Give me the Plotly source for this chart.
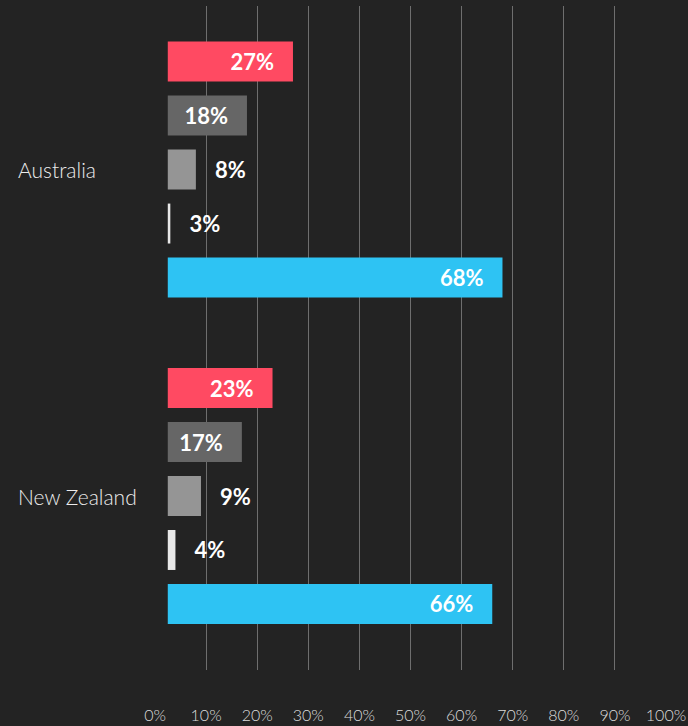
import plotly.graph_objects as go

# ---- data ----
countries = ["Australia", "New Zealand"]
series_names = ["Series 1", "Series 2", "Series 3", "Series 4", "Series 5"]
series_1 = [27, 23]
series_2 = [18, 17]
series_3 = [8, 9]
series_4 = [3, 4]
series_5 = [68, 66]
tick_values = [0, 10, 20, 30, 40, 50, 60, 70, 80, 90, 100]
tick_labels = ["0%", "10%", "20%", "30%", "40%", "50%", "60%", "70%", "80%", "90%", "100%"]

# ---- style ----
BG = "#232323"
colors = ["#ff4a62", "#666666", "#959595", "#e8e8e8", "#2ec3f3"]
BAR_BASE = 2.5          # bars start slightly right of the 0% mark
INSIDE_MIN = 10         # values at or above this get their label inside the bar
PAD = "\u00a0" * 3
FONT = "Lato"

all_series = [series_1, series_2, series_3, series_4, series_5]

fig = go.Figure()
for name, vals, col in zip(series_names, all_series, colors):
    texts, positions = [], []
    for v in vals:
        if v >= INSIDE_MIN:
            texts.append(f"{v}%{PAD}")
            positions.append("inside")
        else:
            texts.append(f"{PAD}{v}%")
            positions.append("outside")
    fig.add_trace(go.Bar(
        name=name,
        y=countries,
        x=[v - BAR_BASE for v in vals],
        base=BAR_BASE,
        orientation="h",
        marker=dict(color=col, line=dict(width=0)),
        text=texts,
        textposition=positions,
        insidetextanchor="end",
        textangle=0,
        constraintext="none",
        cliponaxis=False,
        textfont=dict(family=FONT, size=22, color="#ffffff", weight="bold"),
        insidetextfont=dict(family=FONT, size=22, color="#ffffff", weight="bold"),
        outsidetextfont=dict(family=FONT, size=22, color="#ffffff", weight="bold"),
        hoverinfo="skip",
    ))

for c in countries:
    fig.add_annotation(
        x=0, xref="paper", xshift=-139, xanchor="left",
        y=c, yref="y", yanchor="middle",
        text=c, showarrow=False,
        font=dict(family=FONT, size=21, color="#ececec", weight=300),
    )

fig.update_layout(
    width=688, height=726,
    paper_bgcolor=BG, plot_bgcolor=BG,
    margin=dict(l=155, r=22, t=6, b=56, autoexpand=False),
    barmode="group",
    bargap=0.173,
    bargroupgap=0.26,
    showlegend=False,
    xaxis=dict(
        range=[0, 100],
        tickvals=tick_values,
        ticktext=tick_labels,
        showgrid=True,
        gridcolor="#6e6e6e",
        gridwidth=1,
        zeroline=True,
        zerolinecolor=BG,
        zerolinewidth=2,
        showline=False,
        ticks="outside",
        ticklen=31,
        tickcolor=BG,
        tickfont=dict(family=FONT, size=16, color="#dcdcdc", weight=300),
        automargin=False,
        fixedrange=True,
    ),
    yaxis=dict(
        type="category",
        range=[1.533, -0.501],
        showticklabels=False,
        showgrid=False,
        zeroline=False,
        showline=False,
        automargin=False,
        fixedrange=True,
    ),
)

fig.write_html(
    "out.html",
    config={"displayModeBar": False},
    post_script="document.body.style.margin='0';document.body.style.background='#232323';",
)
